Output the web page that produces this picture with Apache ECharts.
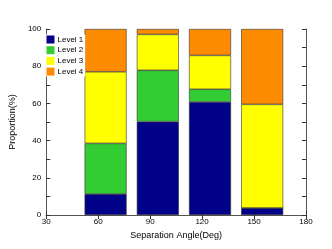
<!DOCTYPE html>
<html><head><meta charset="utf-8">
<script src="https://cdn.jsdelivr.net/npm/echarts@6/dist/echarts.min.js"></script>
<style>html,body{margin:0;padding:0;background:#fff}#c{width:332px;height:249px}</style>
</head><body><div id="c"></div>
<script>
const angles = ['60', '90', '120', '150'];
const level1 = [11.3, 50.2, 60.8, 3.8];
const level2 = [27.2, 27.6, 6.8, 0];
const level3 = [38.5, 19.3, 18.2, 55.7];
const level4 = [23.0, 2.9, 14.2, 40.5];
const seriesNames = ['Level 1', 'Level 2', 'Level 3', 'Level 4'];
const colors = ['#000088', '#33CC33', '#FFFF00', '#FF8C00'];

const allVals = [level1, level2, level3, level4];
const chart = echarts.init(document.getElementById('c'));
const font = 'Liberation Sans, Arial, sans-serif';
const axisLineStyle = {color: '#555', width: 1};
const tickStyle = {show: true, inside: true, length: 4, lineStyle: {color: '#333'}};
chart.setOption({
  animation: false,
  grid: [
    {left: 45, right: 26, top: 29, bottom: 34},
    {left: 79.5, right: 43.7, top: 29, bottom: 34}
  ],
  legend: {
    data: seriesNames, orient: 'vertical', left: 45.5, top: 34.5,
    itemWidth: 8, itemHeight: 8, itemGap: 2.7,
    backgroundColor: '#fff', padding: [1, 2, 1, 1],
    itemStyle: {borderWidth: 0},
    textStyle: {fontSize: 8, lineHeight: 8, fontFamily: font, color: '#000', padding: [0,0,0,-2]},
    icon: 'rect'
  },
  xAxis: [{
    gridIndex: 0, type: 'value', min: 30, max: 180, interval: 30, position: 'bottom',
    name: 'Separation Angle(Deg)', nameLocation: 'middle', nameGap: 10,
    nameTextStyle: {fontSize: 9, fontFamily: font, color: '#000'},
    axisLine: {show: true, lineStyle: axisLineStyle},
    axisTick: tickStyle,
    axisLabel: {fontSize: 8, fontFamily: font, color: '#000', margin: 3},
    splitLine: {show: false}
  }, {
    gridIndex: 0, type: 'value', min: 30, max: 180, interval: 30, position: 'top',
    axisLine: {show: true, lineStyle: axisLineStyle},
    axisTick: tickStyle,
    axisLabel: {show: false}, splitLine: {show: false}
  }, {
    gridIndex: 1, type: 'category', data: angles, boundaryGap: true,
    axisLine: {show: false}, axisTick: {show: false}, axisLabel: {show: false},
    splitLine: {show: false}
  }],
  yAxis: [{
    gridIndex: 0, type: 'value', min: 0, max: 100, interval: 10, position: 'left',
    name: 'Proportion(%)', nameLocation: 'middle', nameGap: 22,
    nameTextStyle: {fontSize: 9, fontFamily: font, color: '#000'},
    axisLine: {show: true, lineStyle: axisLineStyle},
    axisTick: tickStyle,
    axisLabel: {fontSize: 8, fontFamily: font, color: '#000', margin: 5,
      formatter: v => (v % 20 === 0 ? String(v) : '')},
    splitLine: {show: false}
  }, {
    gridIndex: 0, type: 'value', min: 0, max: 100, interval: 10, position: 'right',
    axisLine: {show: true, lineStyle: axisLineStyle},
    axisTick: tickStyle,
    axisLabel: {show: false}, splitLine: {show: false}
  }, {
    gridIndex: 1, type: 'value', min: 0, max: 100, show: false
  }],
  series: seriesNames.map((n, i) => ({
    name: n, type: 'bar', stack: 'all', barWidth: 42,
    xAxisIndex: 2, yAxisIndex: 2, z: 1,
    itemStyle: {color: colors[i], borderColor: '#333', borderWidth: 0.6},
    data: allVals[i]
  }))
});
</script></body></html>
